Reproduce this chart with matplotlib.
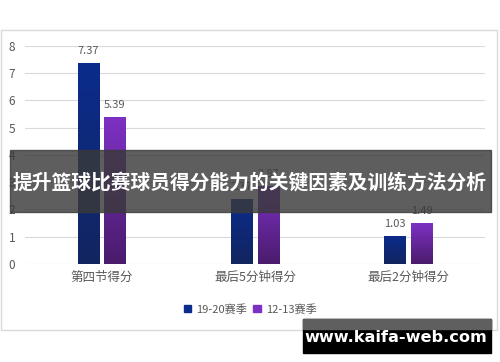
import numpy as np
import matplotlib.pyplot as plt
from matplotlib.colors import LinearSegmentedColormap
from matplotlib.patches import Rectangle

plt.rcParams['font.family'] = ['Noto Sans CJK SC', 'DejaVu Sans']

categories = ['第四节得分', '最后5分钟得分', '最后2分钟得分']
season_1920 = [7.37, 2.37, 1.03]
season_1213 = [5.39, 2.87, 1.49]
series_names = ['19-20赛季', '12-13赛季']
title = '提升篮球比赛球员得分能力的关键因素及训练方法分析'
watermark = 'www.kaifa-web.com'

blue_top, blue_bot = '#0b2c8c', '#122560'
purp_top, purp_bot = '#7d30c4', '#4a1c6c'

fig = plt.figure(figsize=(5, 3.62), dpi=100)
fig.patch.set_facecolor('white')

# outer chart frame
fig.patches.append(Rectangle((0.002, 1 - 330 / 362), 0.992, 300 / 362,
                             transform=fig.transFigure, fill=False,
                             edgecolor='#d9d9d9', lw=1.0))

ax = fig.add_axes([0.05, 1 - 264 / 362, 0.92, (264 - 45.7) / 362])
x = np.arange(len(categories))
w = 0.14
off = 0.087


def gradient_bars(bars, top, bot):
    cmap = LinearSegmentedColormap.from_list('g', [bot, top])
    grad = np.linspace(0, 1, 100).reshape(-1, 1)
    for b in bars:
        x0, y0 = b.get_x(), b.get_y()
        im = ax.imshow(grad, cmap=cmap, origin='lower', aspect='auto',
                       extent=[x0, x0 + b.get_width(), y0, y0 + b.get_height()],
                       zorder=2)
        im.set_clip_path(b)
        b.set_facecolor('none')


b1 = ax.bar(x - off, season_1920, w, color=blue_top, zorder=2, label=series_names[0])
b2 = ax.bar(x + off, season_1213, w, color=purp_top, zorder=2, label=series_names[1])
gradient_bars(b1, blue_top, blue_bot)
gradient_bars(b2, purp_top, purp_bot)

for bars, vals in [(b1, season_1920), (b2, season_1213)]:
    for b, v in zip(bars, vals):
        ax.annotate(f'{v:.2f}', (b.get_x() + b.get_width() / 2, v),
                    xytext=(0, 5), textcoords='offset points',
                    ha='center', va='bottom', fontsize=8, color='#595959')

ax.set_xlim(-0.5, 2.5)
ax.set_ylim(0, 8)
ax.set_yticks(range(0, 9))
ax.grid(axis='y', color='#d9d9d9', lw=0.8, zorder=0)
ax.set_axisbelow(True)
for s in ax.spines.values():
    s.set_visible(False)
ax.tick_params(length=0, colors='#595959', labelsize=8.5)
ax.tick_params(axis='y', pad=7)
ax.tick_params(axis='x', pad=5)
ax.set_xticks(x)
ax.set_xticklabels(categories, fontsize=9)
ax.set_facecolor('none')

# legend
handles = [Rectangle((0, 0), 1, 1, color=blue_top), Rectangle((0, 0), 1, 1, color=purp_top)]
fig.legend(handles, series_names, loc='center', bbox_to_anchor=(0.5, 1 - 309 / 362),
           ncol=2, frameon=False, fontsize=8, handlelength=0.7, handleheight=0.7,
           handletextpad=0.4, columnspacing=0.6, labelcolor='#595959')

# title banner
fig.patches.append(Rectangle((10 / 500, 1 - 212 / 362), 481 / 500, 62 / 362,
                             transform=fig.transFigure, color='#3a3a3a',
                             alpha=0.82, zorder=5))
fig.text(250 / 500, 1 - 183 / 362, title, ha='center', va='center', color='white',
         fontsize=14.2, fontweight='bold', zorder=6)

# watermark
fig.patches.append(Rectangle((303 / 500, 1 - 353 / 362), 188 / 500, 34 / 362,
                             transform=fig.transFigure, color='black', zorder=5))
fig.patches.append(Rectangle((303 / 500, 1 - 329 / 362), 188 / 500, 10 / 362,
                             transform=fig.transFigure, color='#5f5f5f', zorder=5))
fig.text(396 / 500, 1 - 337 / 362, watermark, ha='center', va='center',
         color='white', fontsize=11.6, fontweight='bold', zorder=6,
         family=['DejaVu Sans'])

fig.savefig('out.png', dpi=100)
